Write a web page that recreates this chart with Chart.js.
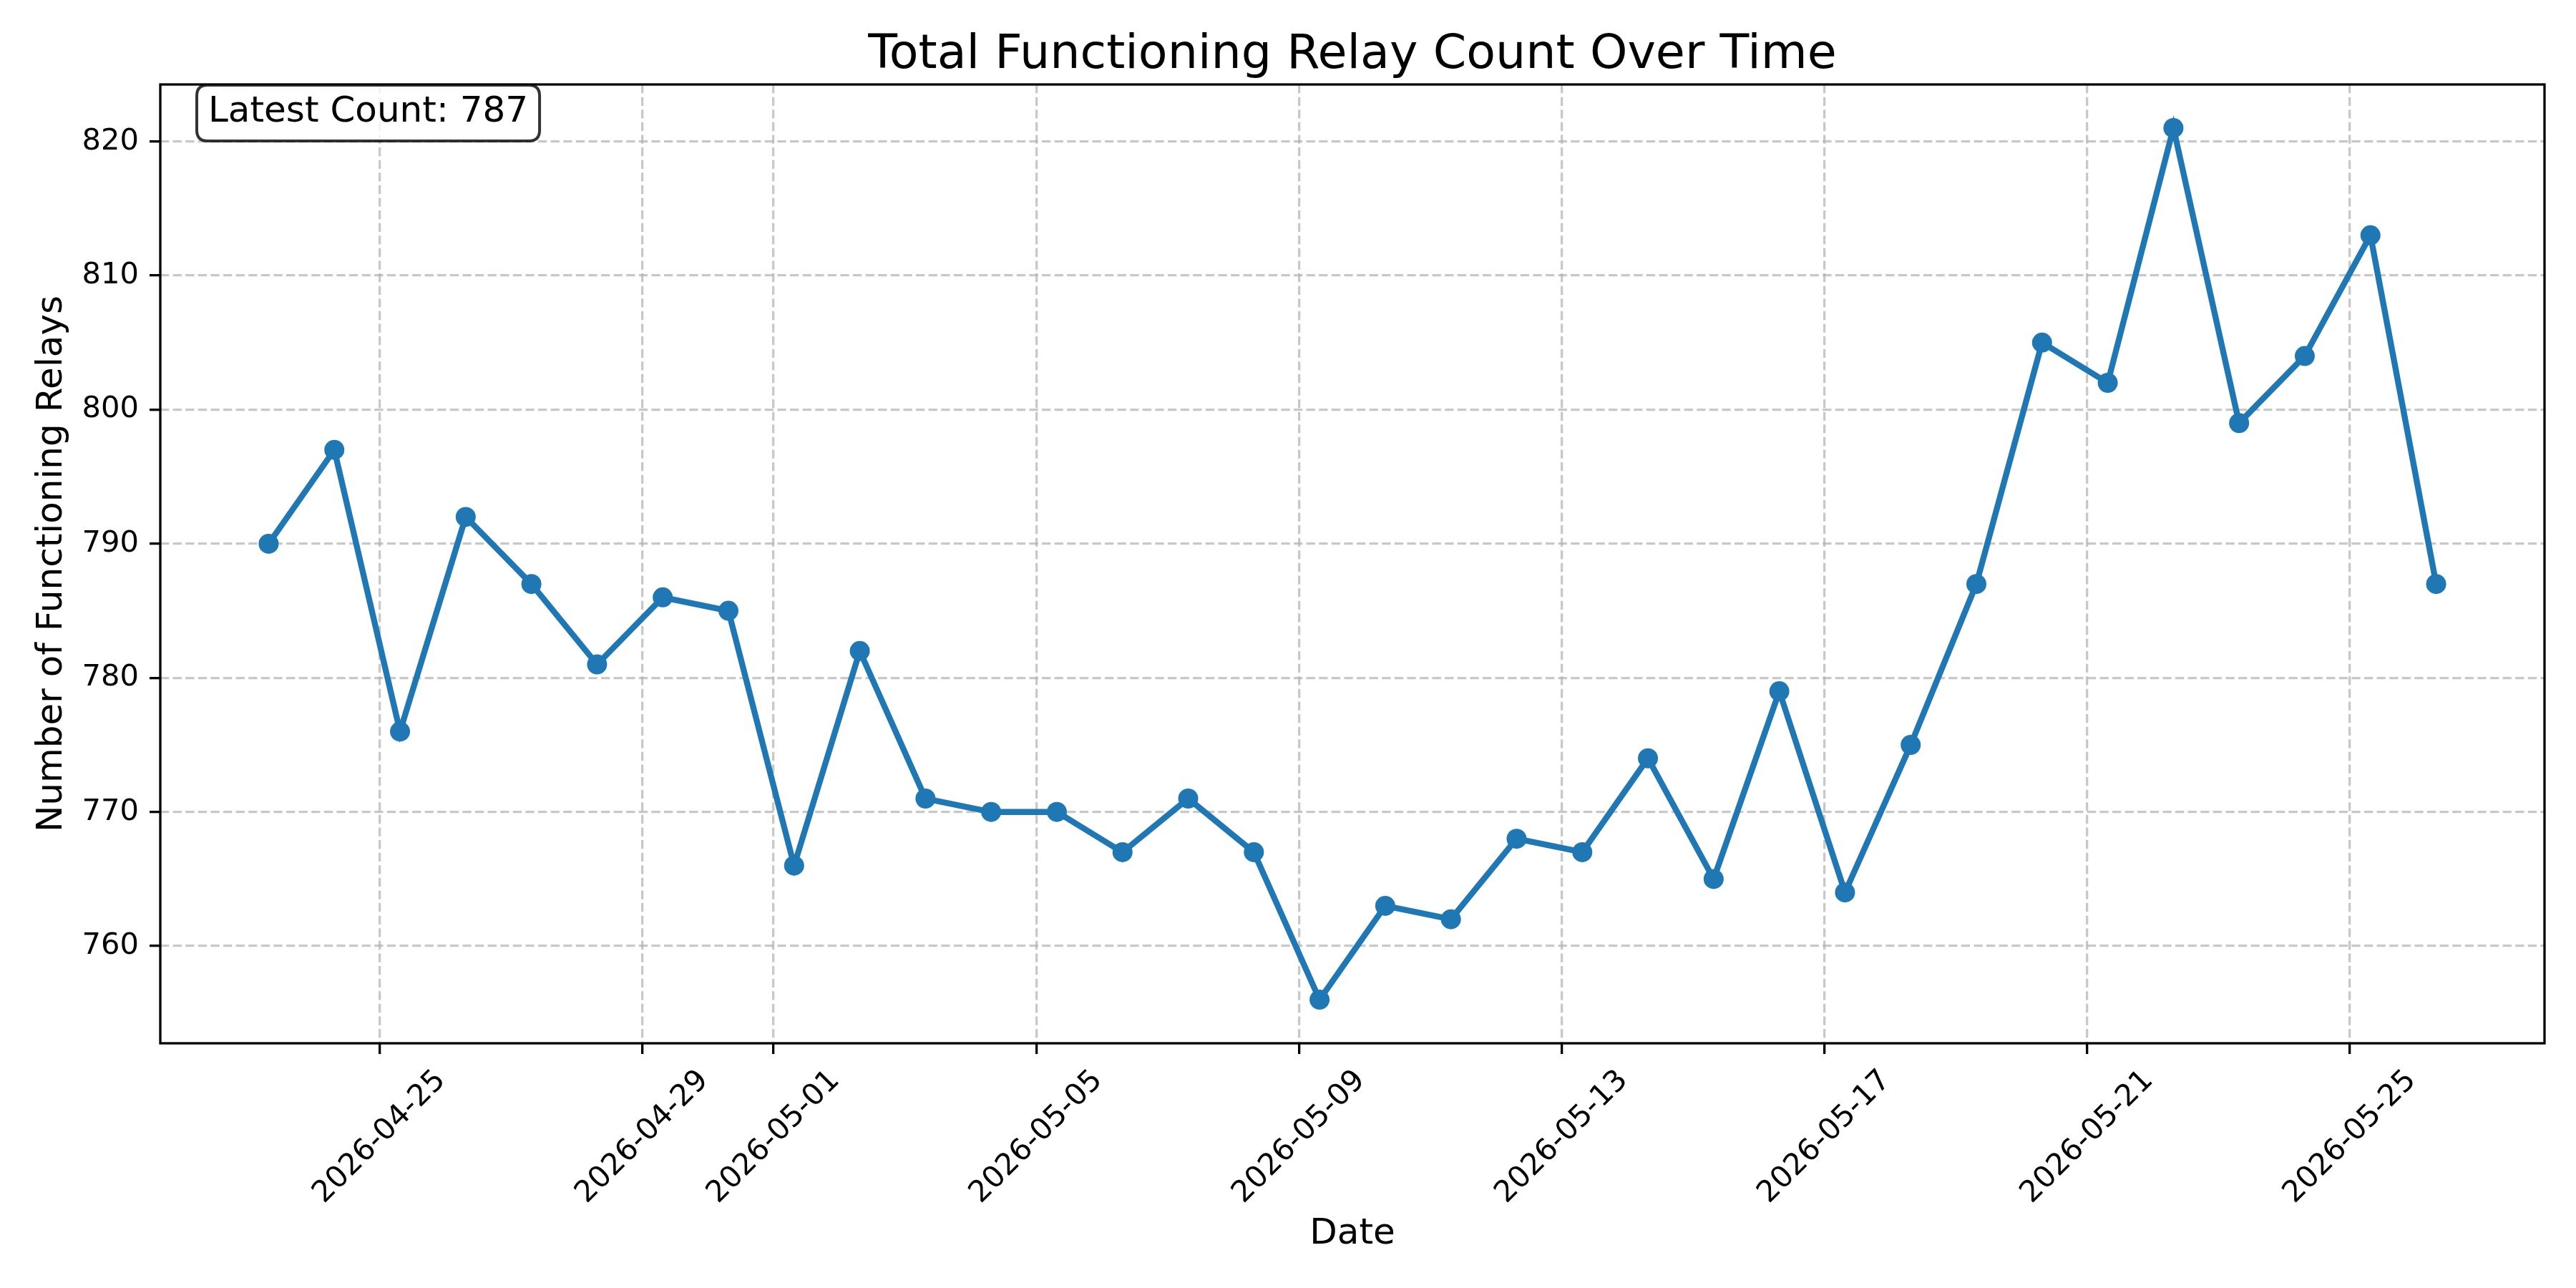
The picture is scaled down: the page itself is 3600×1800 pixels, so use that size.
<!DOCTYPE html>
<html><head><meta charset="utf-8">
<script src="https://cdn.jsdelivr.net/npm/chart.js@4.4.1/dist/chart.umd.min.js"></script>
<style>html,body{margin:0;padding:0;background:#fff}canvas{display:block}</style>
</head><body>
<canvas id="c" width="3600" height="1800" style="width:3600px;height:1800px"></canvas>
<script>
const dates = [
  '2026-04-23','2026-04-24','2026-04-25','2026-04-26','2026-04-27','2026-04-28','2026-04-29','2026-04-30',
  '2026-05-01','2026-05-02','2026-05-03','2026-05-04','2026-05-05','2026-05-06','2026-05-07','2026-05-08',
  '2026-05-09','2026-05-10','2026-05-11','2026-05-12','2026-05-13','2026-05-14','2026-05-15','2026-05-16',
  '2026-05-17','2026-05-18','2026-05-19','2026-05-20','2026-05-21','2026-05-22','2026-05-23','2026-05-24',
  '2026-05-25','2026-05-26'
];
const sampleTime = 'T07:30:00Z';
const relayCounts = [
  790, 797, 776, 792, 787, 781, 786, 785,
  766, 782, 771, 770, 770, 767, 771, 767,
  756, 763, 762, 768, 767, 774, 765, 779,
  764, 775, 787, 805, 802, 821, 799, 804,
  813, 787
];
const xTickDates = ['2026-04-25','2026-04-29','2026-05-01','2026-05-05','2026-05-09','2026-05-13','2026-05-17','2026-05-21','2026-05-25'];
const yTickValues = [760, 770, 780, 790, 800, 810, 820];
const chartTitle = 'Total Functioning Relay Count Over Time';
const xAxisTitle = 'Date';
const yAxisTitle = 'Number of Functioning Relays';
const latestLabel = 'Latest Count: ' + relayCounts[relayCounts.length - 1];

const FONT = 'DejaVu Sans';
const xs = dates.map(d => Date.parse(d + sampleTime));
const xSpan = xs[xs.length - 1] - xs[0];
const xMin = xs[0] - 0.05 * xSpan, xMax = xs[xs.length - 1] + 0.05 * xSpan;
const yLo = Math.min(...relayCounts), yHi = Math.max(...relayCounts);
const yMin = yLo - 0.05 * (yHi - yLo), yMax = yHi + 0.05 * (yHi - yLo);

const titleOverPlot = {
  id: 'titleOverPlot',
  afterLayout(chart) {
    if (chart.titleBlock) {
      chart.titleBlock.left = chart.chartArea.left;
      chart.titleBlock.right = chart.chartArea.right;
    }
  }
};

const framePlugin = {
  id: 'frame',
  afterDatasetsDraw(chart) {
    const {ctx, chartArea: a} = chart;
    ctx.save();
    ctx.strokeStyle = '#000';
    ctx.lineWidth = 3.3;
    ctx.strokeRect(a.left, a.top, a.right - a.left, a.bottom - a.top);
    ctx.restore();
  }
};

const annotationPlugin = {
  id: 'latestBox',
  afterDraw(chart) {
    const {ctx, chartArea: a} = chart;
    ctx.save();
    ctx.font = '50px "' + FONT + '"';
    const tw = ctx.measureText(latestLabel).width;
    const pad = 15;
    const x = a.left + 51, y = a.top + 1;
    const w = tw + 2 * pad + 2, h = 78, r = 15;
    ctx.beginPath();
    ctx.moveTo(x + r, y);
    ctx.lineTo(x + w - r, y);
    ctx.quadraticCurveTo(x + w, y, x + w, y + r);
    ctx.lineTo(x + w, y + h - r);
    ctx.quadraticCurveTo(x + w, y + h, x + w - r, y + h);
    ctx.lineTo(x + r, y + h);
    ctx.quadraticCurveTo(x, y + h, x, y + h - r);
    ctx.lineTo(x, y + r);
    ctx.quadraticCurveTo(x, y, x + r, y);
    ctx.closePath();
    ctx.fillStyle = 'rgba(255,255,255,0.8)';
    ctx.fill();
    ctx.strokeStyle = 'rgba(0,0,0,0.8)';
    ctx.lineWidth = 4;
    ctx.stroke();
    ctx.fillStyle = '#000';
    ctx.textAlign = 'left';
    ctx.textBaseline = 'alphabetic';
    ctx.fillText(latestLabel, x + pad + 1, y + 51);
    ctx.restore();
  }
};

const gridCommon = {
  color: 'rgba(176,176,176,0.7)',
  lineWidth: 3.3,
  tickLength: 15,
  tickColor: '#000',
  tickWidth: 3.3,
  tickBorderDash: []
};
const borderCommon = {display: false, dash: [12.3, 5.3]};

new Chart(document.getElementById('c').getContext('2d'), {
  type: 'line',
  data: {
    datasets: [{
      data: xs.map((x, i) => ({x: x, y: relayCounts[i]})),
      borderColor: '#1f77b4',
      backgroundColor: '#1f77b4',
      borderWidth: 8.33,
      pointRadius: 14,
      pointHoverRadius: 14,
      pointBorderWidth: 0,
      pointBackgroundColor: '#1f77b4',
      tension: 0,
      fill: false
    }]
  },
  options: {
    responsive: false,
    animation: false,
    devicePixelRatio: 1,
    events: [],
    layout: {padding: {left: 0, right: 44, top: 0, bottom: 0}},
    plugins: {
      legend: {display: false},
      tooltip: {enabled: false},
      title: {
        display: true,
        text: chartTitle,
        color: '#000',
        font: {family: FONT, size: 66.7, weight: 'normal', lineHeight: 1.2},
        padding: {top: 38, bottom: 0}
      }
    },
    scales: {
      x: {
        type: 'linear',
        min: xMin,
        max: xMax,
        afterBuildTicks: s => { s.ticks = xTickDates.map(d => ({value: Date.parse(d + 'T00:00:00Z')})); },
        afterFit: s => { s.height = 342; },
        ticks: {
          autoSkip: false,
          minRotation: 45,
          maxRotation: 45,
          labelOffset: 86,
          padding: 13,
          color: '#000',
          font: {family: FONT, size: 41.7, lineHeight: 1.2},
          callback: v => new Date(v).toISOString().slice(0, 10)
        },
        grid: gridCommon,
        border: borderCommon,
        title: {
          display: true,
          text: xAxisTitle,
          color: '#000',
          font: {family: FONT, size: 50, lineHeight: 1.2},
          padding: {top: 0, bottom: 45}
        }
      },
      y: {
        type: 'linear',
        min: yMin,
        max: yMax,
        afterBuildTicks: s => { s.ticks = yTickValues.map(v => ({value: v})); },
        afterFit: s => { s.width = 224; },
        ticks: {
          padding: 15,
          color: '#000',
          font: {family: FONT, size: 41.7, lineHeight: 1.2},
          callback: v => String(v)
        },
        grid: gridCommon,
        border: borderCommon,
        title: {
          display: true,
          text: yAxisTitle,
          color: '#000',
          font: {family: FONT, size: 50, lineHeight: 1.2},
          padding: {top: 43, bottom: 0}
        }
      }
    }
  },
  plugins: [titleOverPlot, framePlugin, annotationPlugin]
});
</script>
</body></html>
